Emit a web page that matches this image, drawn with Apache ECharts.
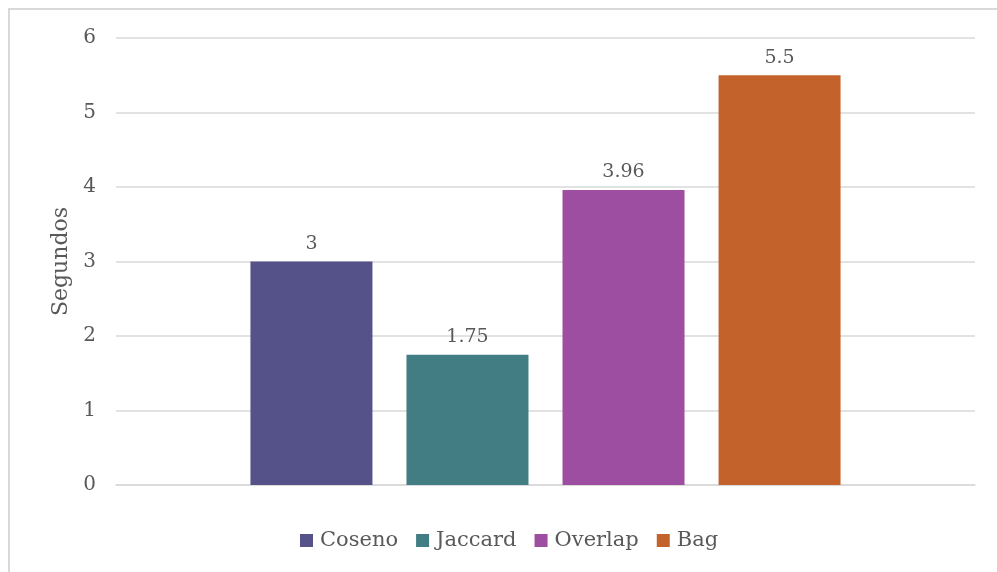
<!DOCTYPE html>
<html>
<head>
<meta charset="utf-8">
<script src="https://cdn.jsdelivr.net/npm/echarts@6/dist/echarts.min.js"></script>
<style>
  html, body { margin: 0; padding: 0; background: #ffffff; }
  #chart { width: 997px; height: 572px; }
</style>
</head>
<body>
<div id="chart"></div>
<script>
// Execution time per similarity measure
const seriesNames = ['Coseno', 'Jaccard', 'Overlap', 'Bag'];
const seriesValues = [3, 1.75, 3.96, 5.5];
const seriesColors = ['#545288', '#417D82', '#9D4EA1', '#C3632B'];
const yTicks = { min: 0, max: 6, interval: 1 };
const yTitle = 'Segundos';

const fontFamily = 'Georgia, "DejaVu Serif", "Liberation Serif", serif';
const textColor = '#595959';

const chart = echarts.init(document.getElementById('chart'), null, { renderer: 'canvas' });

const series = seriesNames.map((name, i) => ({
  name: name,
  type: 'bar',
  data: [seriesValues[i]],
  barWidth: 122,
  barGap: '27.9%',
  itemStyle: { color: seriesColors[i] },
  label: {
    show: true,
    position: 'top',
    distance: 8,
    color: textColor,
    fontFamily: fontFamily,
    fontSize: 19
  }
}));

chart.setOption({
  animation: false,
  backgroundColor: '#ffffff',
  graphic: [{
    type: 'rect',
    silent: true,
    shape: { x: 9, y: 9, width: 1000, height: 600 },
    style: { fill: 'none', stroke: '#d9d9d9', lineWidth: 2 }
  }],
  grid: { left: 116, right: 22, top: 38, bottom: 87, containLabel: false },
  legend: {
    data: seriesNames,
    bottom: 16,
    left: 295,
    itemWidth: 13,
    itemHeight: 13,
    itemGap: 18,
    icon: 'rect',
    textStyle: { color: textColor, fontFamily: fontFamily, fontSize: 21, padding: [0, 0, 0, 2] }
  },
  xAxis: {
    type: 'category',
    data: [''],
    axisTick: { show: false },
    axisLabel: { show: false },
    axisLine: { lineStyle: { color: '#d9d9d9', width: 1.5 } }
  },
  yAxis: {
    type: 'value',
    min: yTicks.min,
    max: yTicks.max,
    interval: yTicks.interval,
    name: yTitle,
    nameLocation: 'middle',
    nameGap: 44,
    nameTextStyle: { color: textColor, fontFamily: fontFamily, fontSize: 22 },
    axisLine: { show: false },
    axisTick: { show: false },
    axisLabel: { color: textColor, fontFamily: fontFamily, fontSize: 20, margin: 20 },
    splitLine: { lineStyle: { color: '#d9d9d9', width: 1.5 } }
  },
  series: series
});
</script>
</body>
</html>
